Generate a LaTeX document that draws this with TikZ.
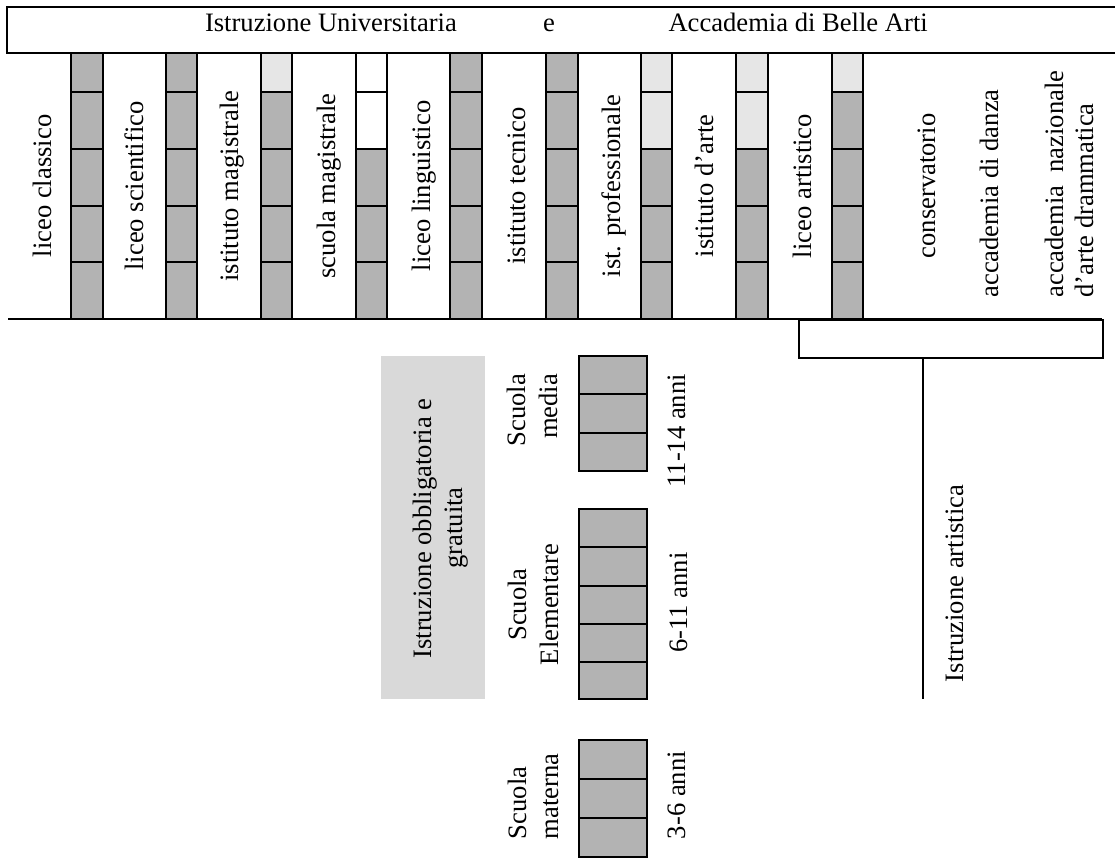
\documentclass[tikz,border=0pt]{standalone}
\usepackage{fontspec}
\setmainfont{Liberation Serif}
\definecolor{dg}{RGB}{179,179,179}
\definecolor{lg}{RGB}{230,230,230}
\definecolor{boxg}{RGB}{217,217,217}
\begin{document}
\begin{tikzpicture}[x=1pt,y=-1pt,line width=2pt,
  lbl/.style={inner sep=0pt,font=\fontsize{26.6}{31}\selectfont},
  vlbl/.style={lbl,rotate=90},
  segbox/.style={draw=black,line width=2pt}]
\useasboundingbox (0,0) rectangle (1115,858);
% top box (right side runs off the page)
\draw (1118,6.7) -- (7.3,6.7) -- (7.3,53.3) -- (1118,53.3);
\node[lbl,anchor=base west] (tuni) at (204,31.7) {Istruzione Universitaria};
\node[lbl,anchor=base west] (te) at (542,31.7) {e};
\node[lbl,anchor=base west] (tacc) at (667.5,31.7) {Accademia di Belle Arti};
% baseline of the columns
\draw (8,318.7) -- (1102.3,318.7);
% bars
\foreach \xl/\xr/\ca/\cb in {70.7/102.7/dg/dg, 165.7/197.3/dg/dg, 260.7/292.3/lg/dg,
  356/386.7/white/white, 450/482/dg/dg, 546/577.7/dg/dg, 640.7/672.3/lg/lg,
  736/767.7/lg/lg, 831.7/862.7/lg/dg}{
  \filldraw[segbox,fill=\ca] (\xl,53.3) rectangle (\xr,92.5);
  \filldraw[segbox,fill=\cb] (\xl,92.5) rectangle (\xr,149);
  \foreach \ya/\yb in {149/206,206/262.5,262.5/318.7}
    \filldraw[segbox,fill=dg] (\xl,\ya) rectangle (\xr,\yb);
}
% column labels
\node[vlbl,anchor=base] (c1) at (51,186) {liceo classico};
\node[vlbl,anchor=base] (c2) at (143.5,186) {liceo scientifico};
\node[vlbl,anchor=base] (c3) at (238,186) {istituto magistrale};
\node[vlbl,anchor=base] (c4) at (335,186) {scuola magistrale};
\node[vlbl,anchor=base] (c5) at (430,186) {liceo linguistico};
\node[vlbl,anchor=base] (c6) at (525,186) {istituto tecnico};
\node[vlbl,anchor=base] (c7) at (620,186) {ist. professionale};
\node[vlbl,anchor=base] (c8) at (713,186) {istituto d’arte};
\node[vlbl,anchor=base] (c9) at (811.5,186) {liceo artistico};
\node[vlbl,anchor=base] (c10) at (935,186) {conservatorio};
\node[vlbl,anchor=base west] (c11) at (998,298.6) {accademia di danza};
\node[vlbl,anchor=base west] (c12a) at (1063,298.6) {\makebox[227pt][l]{accademia\hfill nazionale}};
\node[vlbl,anchor=base west] (c12b) at (1093,298.6) {d’arte drammatica};
% artistic education box
\node[draw,line width=2pt,minimum width=304.6pt,minimum height=38pt,inner sep=0pt,anchor=north west] (artbox) at (797.7,318.7) {};
\coordinate (artend) at (923,699);
\draw (artbox.south -| artend) -- (artend);
\node[vlbl,anchor=base west] (artlbl) at (963.3,683) {Istruzione artistica};
% compulsory education
\fill[boxg] (381,356) rectangle (485,699.3);
\node[vlbl,anchor=base] (obb1) at (431,528.5) {Istruzione obbligatoria e};
\node[vlbl,anchor=base] (obb2) at (462,528) {gratuita};
% scuola media
\foreach \ya/\yb in {356/394.3,394.3/432.7,432.7/471}
  \filldraw[segbox,fill=dg] (579.3,\ya) rectangle (646.7,\yb);
\node[vlbl,anchor=base east] (sm1) at (525,373) {Scuola};
\node[vlbl,anchor=base east] (sm2) at (557,373) {media};
\node[vlbl,anchor=base east] (sm3) at (685,373) {11-14 anni};
% scuola elementare
\foreach \ya/\yb in {509/547,547/585.7,585.7/623.5,623.5/661.5,661.5/699.3}
  \filldraw[segbox,fill=dg] (579.3,\ya) rectangle (646.7,\yb);
\node[vlbl,anchor=base] (se1) at (526.5,604.5) {Scuola};
\node[vlbl,anchor=base] (se2) at (558,604.5) {Elementare};
\node[vlbl,anchor=base] (se3) at (687,602.5) {6-11 anni};
% scuola materna
\foreach \ya/\yb in {740/779,779/817.7,817.7/856.5}
  \filldraw[segbox,fill=dg] (579.3,\ya) rectangle (646.7,\yb);
\node[vlbl,anchor=base west] (sma1) at (526.5,840) {Scuola};
\node[vlbl,anchor=base west] (sma2) at (558,840) {materna};
\node[vlbl,anchor=base west] (sma3) at (685,840) {3-6 anni};
\end{tikzpicture}
\end{document}
